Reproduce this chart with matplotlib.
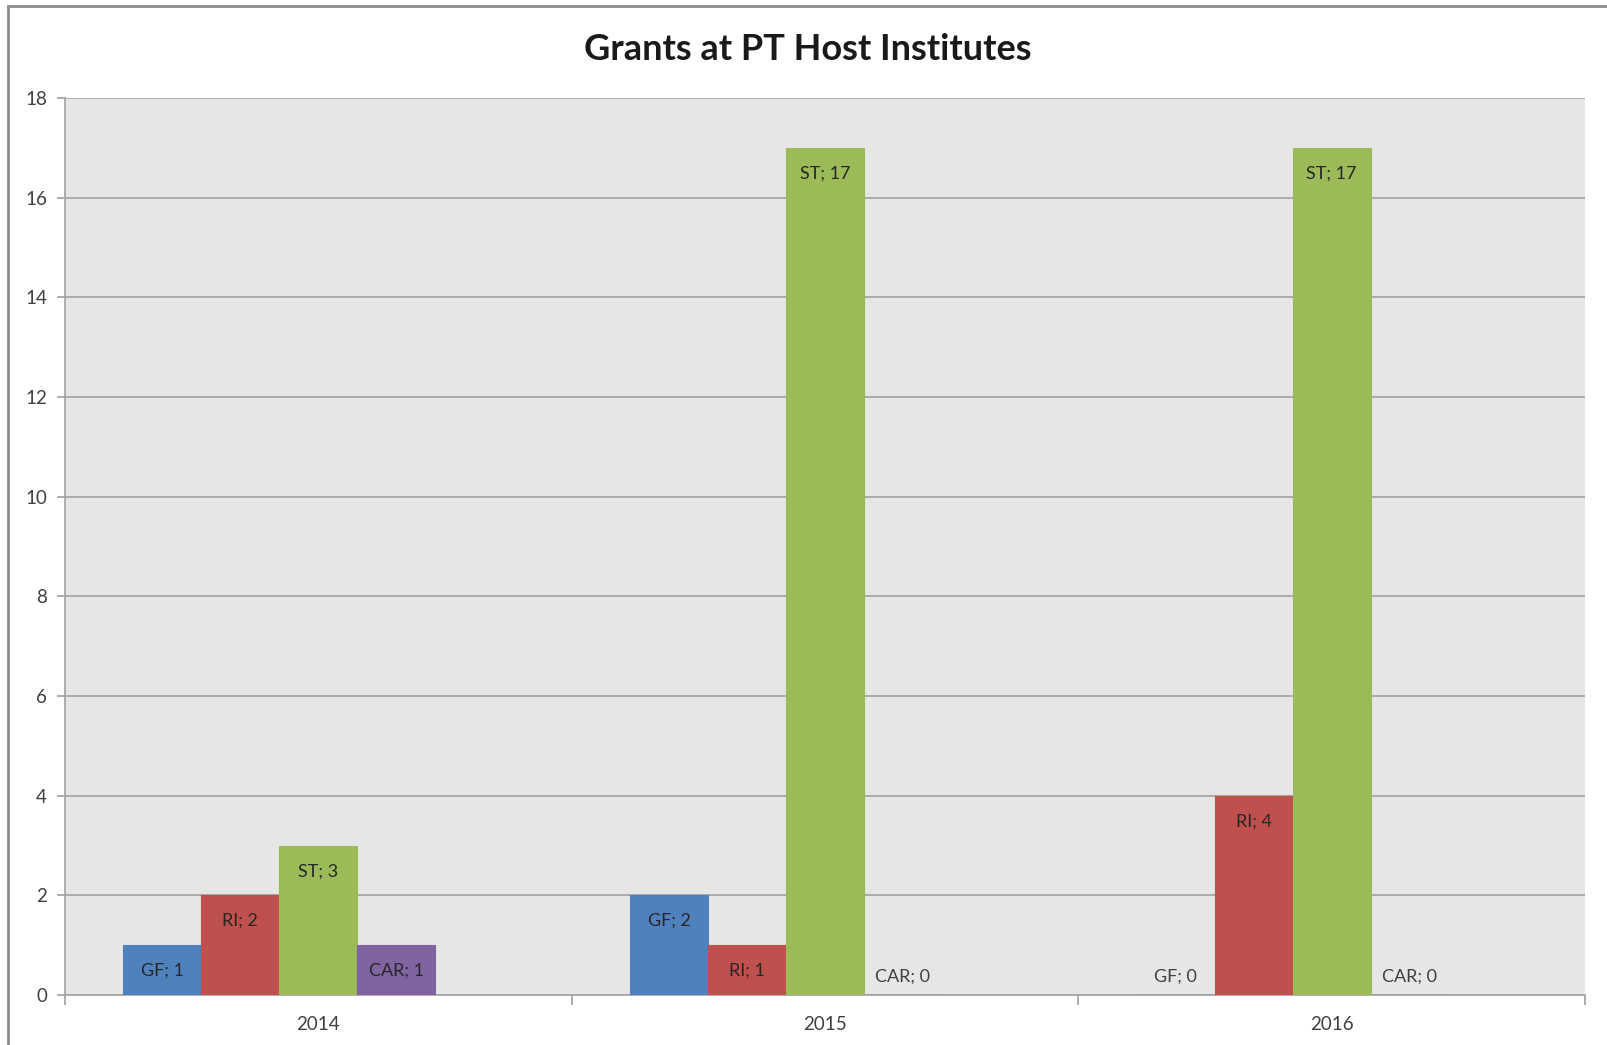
import numpy as np
import matplotlib
matplotlib.use('Agg')
import matplotlib.pyplot as plt
from matplotlib.patches import Rectangle

plt.rcParams['font.family'] = ['Lato', 'DejaVu Sans']

years = ['2014', '2015', '2016']
series_names = ['GF', 'RI', 'ST', 'CAR']
gf = [1, 2, 0]
ri = [2, 1, 4]
st = [3, 17, 17]
car = [1, 0, 0]
values = [gf, ri, st, car]
colors = ['#4F81BD', '#C0504D', '#9BBB59', '#8064A2']

fig = plt.figure(figsize=(16.07, 10.45), dpi=100)
ax = fig.add_axes([65 / 1607, 1 - 995 / 1045, (1585 - 65) / 1607, (995 - 98) / 1045])
ax.set_facecolor('#E6E6E6')

# Excel keeps a slot for a fifth (empty) series
n_slots = 5
w = 1 / (n_slots + 1.5)
x = np.arange(len(years))

for i, (name, vals, col) in enumerate(zip(series_names, values, colors)):
    pos = x + (i - (n_slots - 1) / 2) * w
    ax.bar(pos, vals, width=w, color=col, edgecolor=col, linewidth=0.8, zorder=3)
    for p, v in zip(pos, vals):
        if v > 0:
            ax.annotate(f'{name}; {v}', (p, v), xytext=(0, -18.5), textcoords='offset points',
                        ha='center', va='center', fontsize=13, color='#262626', zorder=4)
        else:
            ax.annotate(f'{name}; {v}', (p, v), xytext=(0, 13.5), textcoords='offset points',
                        ha='center', va='center', fontsize=13, color='#404040', zorder=4)

ax.set_xlim(-0.5, len(years) - 0.5)
ax.set_ylim(0, 18)
ax.set_yticks(range(0, 19, 2))
ax.yaxis.grid(True, color='#A6A6A6', linewidth=1.3, zorder=0)
ax.set_axisbelow(True)

ax.set_xticks(x)
ax.set_xticklabels(years)
ax.set_xticks(np.arange(len(years) + 1) - 0.5, minor=True)
ax.tick_params(axis='x', which='major', length=0, pad=15, labelsize=13.5, labelcolor='#404040')
ax.tick_params(axis='x', which='minor', length=7, color='#A6A6A6', width=1.3)
ax.tick_params(axis='y', length=6, color='#A6A6A6', width=1.3, pad=7, labelsize=13.5, labelcolor='#404040')

for side in ['top', 'right']:
    ax.spines[side].set_visible(False)
for side in ['left', 'bottom']:
    ax.spines[side].set_color('#A6A6A6')
    ax.spines[side].set_linewidth(1.3)

fig.text(808 / 1607, 1 - 49 / 1045, 'Grants at PT Host Institutes', ha='center', va='center',
         fontsize=26, fontweight='bold', color='#1a1a1a')

# outer chart border
fig.patches.append(Rectangle((8 / 1607, -0.05), 1.1, 1 - 6 / 1045 + 0.05, transform=fig.transFigure,
                             fill=False, edgecolor='#8C8C8C', linewidth=2))

fig.savefig('out.png', dpi=100)
